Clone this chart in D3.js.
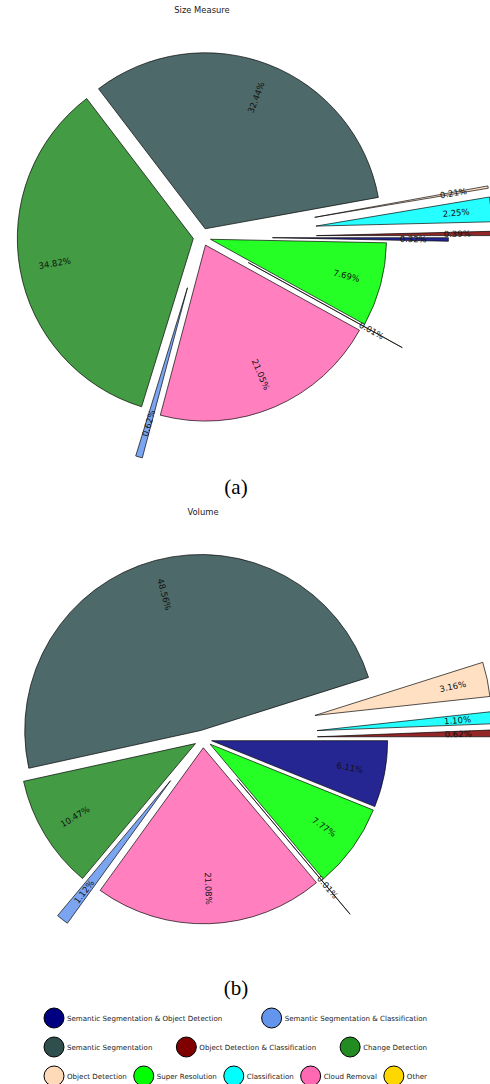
<!DOCTYPE html>
<html>
<head>
<meta charset="utf-8">
<script src="https://cdn.jsdelivr.net/npm/d3@7"></script>
<style>
  body { margin: 0; background: #fff; }
  svg { display: block; }
</style>
</head>
<body>
<div id="chart"></div>
<script>
// data, in the order the wedges go round (counterclockwise from 3 o'clock)
const categories = [
  "Object Detection & Classification",
  "Classification",
  "Object Detection",
  "Semantic Segmentation",
  "Change Detection",
  "Semantic Segmentation & Classification",
  "Cloud Removal",
  "Other",
  "Super Resolution",
  "Semantic Segmentation & Object Detection"
];
const sizeMeasure = [0.39, 2.25, 0.21, 32.44, 34.82, 0.62, 21.05, 0.01, 7.69, 0.32];
const volume      = [0.62, 1.10, 3.16, 48.56, 10.47, 1.12, 21.08, 0.01, 7.77, 6.11];

// legend rows
const legendRows = [
  ["Semantic Segmentation & Object Detection", "Semantic Segmentation & Classification"],
  ["Semantic Segmentation", "Object Detection & Classification", "Change Detection"],
  ["Object Detection", "Super Resolution", "Classification", "Cloud Removal", "Other"]
];

const color = d3.scaleOrdinal()
  .domain([
    "Semantic Segmentation & Object Detection", "Semantic Segmentation & Classification",
    "Semantic Segmentation", "Object Detection & Classification", "Change Detection",
    "Object Detection", "Super Resolution", "Classification", "Cloud Removal", "Other"
  ])
  .range(["#000080", "#6495ED", "#2F4F4F", "#800000", "#228B22",
          "#FFDAB9", "#00FF00", "#00FFFF", "#FF69B4", "#FFD700"]);

const width = 490, height = 1084;
const radius = 176;

const svg = d3.select("#chart")
  .append("svg")
  .attr("width", width)
  .attr("height", height);

const pie = d3.pie()
  .sort(null)
  .value(d => d.value)
  .startAngle(Math.PI / 2)
  .endAngle(Math.PI / 2 - 2 * Math.PI);

const arc = d3.arc()
  .innerRadius(0)
  .outerRadius(radius);

function drawPie(values, explode, title, caption, cx, cy, titleY, captionY) {
  const rows = categories.map((c, i) => ({name: c, value: values[i], explode: explode[i]}));

  svg.append("text")
    .attr("x", cx)
    .attr("y", titleY)
    .attr("text-anchor", "middle")
    .style("font-family", "DejaVu Sans")
    .style("font-size", "8.4px")
    .style("fill", "#222")
    .text(title);

  const g = svg.append("g")
    .attr("transform", "translate(" + cx + "," + cy + ")");

  const slices = g.selectAll("g.slice")
    .data(pie(rows))
    .enter()
    .append("g")
    .attr("class", "slice")
    .attr("transform", d => {
      const mid = (d.startAngle + d.endAngle) / 2;
      const off = d.data.explode * radius;
      return "translate(" + (Math.sin(mid) * off) + "," + (-Math.cos(mid) * off) + ")";
    });

  slices.append("path")
    .attr("d", arc)
    .attr("fill", d => color(d.data.name))
    .attr("fill-opacity", 0.85)
    .attr("stroke", "#000")
    .attr("stroke-opacity", 0.85)
    .attr("stroke-width", 0.8)
    .attr("stroke-linejoin", "miter");

  slices.append("text")
    .attr("transform", d => {
      const mid = (d.startAngle + d.endAngle) / 2;
      const x = Math.sin(mid) * radius * 0.8;
      const y = -Math.cos(mid) * radius * 0.8;
      // matplotlib angle of the wedge middle
      let deg = (90 - mid * 180 / Math.PI) % 360;
      if (deg < 0) deg += 360;
      let rot = deg;
      if (deg > 90 && deg < 270) rot = deg - 180;
      return "translate(" + x + "," + y + ") rotate(" + (-rot) + ")";
    })
    .attr("text-anchor", "middle")
    .attr("dominant-baseline", "central")
    .style("font-family", "DejaVu Sans")
    .style("font-size", "8.5px")
    .style("fill", "#111")
    .text(d => d.data.value.toFixed(2) + "%");

  svg.append("text")
    .attr("x", 236)
    .attr("y", captionY)
    .attr("text-anchor", "middle")
    .attr("dominant-baseline", "central")
    .style("font-family", "Liberation Serif")
    .style("font-size", "21px")
    .style("fill", "#000")
    .text(caption);
}

drawPie(sizeMeasure, [0.65, 0.65, 0.65, 0.05, 0.05, 0.3, 0.05, 0.3, 0.05, 0.4],
        "Size Measure", "(a)", 202, 237, 13, 487);
drawPie(volume, [0.65, 0.65, 0.65, 0.05, 0.05, 0.3, 0.05, 0.3, 0.05, 0.05],
        "Volume", "(b)", 203, 739, 515, 988);

// legend: each row spread from left to right edge
const legendLeft = 44, legendRight = 427;
const legendY = [1018, 1047, 1076];
const r = 10;

legendRows.forEach((row, ri) => {
  const items = svg.append("g").attr("class", "legend-row");
  const texts = row.map(name => items.append("text")
    .attr("y", legendY[ri])
    .attr("dominant-baseline", "central")
    .style("font-family", "DejaVu Sans")
    .style("font-size", "7.1px")
    .style("fill", "#222")
    .text(name));
  const widths = texts.map(t => t.node().getComputedTextLength());
  const itemW = widths.map(w => 2 * r + 3 + w);
  const total = d3.sum(itemW);
  const gap = row.length > 1 ? (legendRight - legendLeft - total) / (row.length - 1) : 0;
  let x = legendLeft;
  row.forEach((name, i) => {
    items.append("circle")
      .attr("cx", x + r)
      .attr("cy", legendY[ri])
      .attr("r", r)
      .attr("fill", color(name))
      .attr("stroke", "#000")
      .attr("stroke-width", 1);
    texts[i].attr("x", x + 2 * r + 3);
    x += itemW[i] + gap;
  });
});
</script>
</body>
</html>
